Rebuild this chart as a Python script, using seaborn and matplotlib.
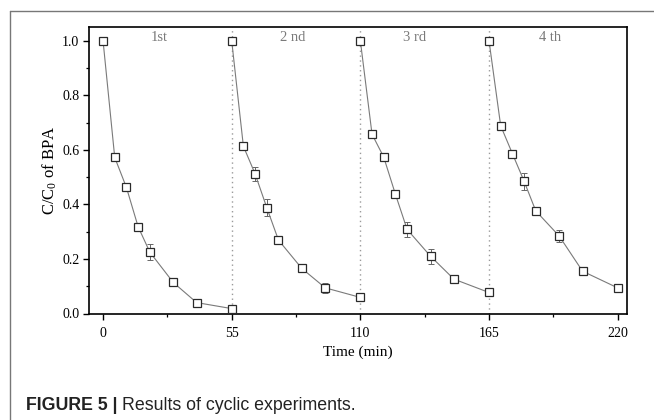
import matplotlib
matplotlib.use("Agg")
import matplotlib.pyplot as plt
import seaborn as sns
import numpy as np
import pandas as pd
from matplotlib.ticker import MultipleLocator, FixedLocator
from matplotlib.lines import Line2D

# ---- data ----
cycle_names = ["1st", "2 nd", "3 rd", "4 th"]
time_c1 = [0, 5, 10, 15, 20, 30, 40, 55]
conc_c1 = [1.0, 0.572, 0.462, 0.318, 0.225, 0.114, 0.040, 0.018]
err_c1 = [0.004, 0.006, 0.006, 0.006, 0.028, 0.012, 0.005, 0.004]
time_c2 = [55, 60, 65, 70, 75, 85, 95, 110]
conc_c2 = [1.0, 0.613, 0.512, 0.388, 0.269, 0.165, 0.094, 0.059]
err_c2 = [0.004, 0.005, 0.026, 0.032, 0.005, 0.005, 0.018, 0.004]
time_c3 = [110, 115, 120, 125, 130, 140, 150, 165]
conc_c3 = [1.0, 0.657, 0.573, 0.437, 0.308, 0.210, 0.126, 0.077]
err_c3 = [0.004, 0.012, 0.006, 0.006, 0.027, 0.028, 0.005, 0.006]
time_c4 = [165, 170, 175, 180, 185, 195, 205, 220]
conc_c4 = [1.0, 0.688, 0.586, 0.485, 0.376, 0.284, 0.155, 0.094]
err_c4 = [0.004, 0.008, 0.005, 0.031, 0.005, 0.023, 0.008, 0.005]
cycle_boundaries = [55, 110, 165]
label_x = [24, 81, 133, 191]
x_ticks = [0, 55, 110, 165, 220]

times = [time_c1, time_c2, time_c3, time_c4]
concs = [conc_c1, conc_c2, conc_c3, conc_c4]
errs = [err_c1, err_c2, err_c3, err_c4]

rows = []
for name, t, c, e in zip(cycle_names, times, concs, errs):
    for ti, ci, ei in zip(t, c, e):
        rows.append({"cycle": name, "time": ti, "conc": ci, "err": ei})
df = pd.DataFrame(rows)

sns.set_theme(style="ticks")
plt.rcParams["font.family"] = ["Liberation Serif", "DejaVu Serif"]
plt.rcParams["mathtext.fontset"] = "custom"
plt.rcParams["mathtext.rm"] = "Liberation Serif"
plt.rcParams["mathtext.it"] = "Liberation Serif:italic"

fig = plt.figure(figsize=(6.54, 4.2), dpi=100)
ax = fig.add_axes([89 / 654, 1 - 313.5 / 420, (627 - 89) / 654, (313.5 - 27) / 420])

line_col = "#7a7a7a"
mk_edge = "#2a2a2a"

for b in cycle_boundaries:
    ax.axvline(b, color="#9a9a9a", linestyle=(0, (1, 2.5)), linewidth=1.0, zorder=1)

for name in cycle_names:
    sub = df[df["cycle"] == name]
    ax.errorbar(sub["time"], sub["conc"], yerr=sub["err"], fmt="none",
                ecolor="#666666", elinewidth=0.7, capsize=2.5, capthick=0.7, zorder=2)
    sns.lineplot(data=sub, x="time", y="conc", ax=ax, color=line_col,
                 linewidth=0.8, marker="s", markersize=5.2, markerfacecolor="white",
                 markeredgecolor=mk_edge, markeredgewidth=0.9, zorder=3,
                 errorbar=None, sort=False)

for name, lx in zip(cycle_names, label_x):
    ax.text(lx, 1.01, name, ha="center", va="center", fontsize=10.5, color="#7a7a7a")

ax.set_xlim(-6, 224)
ax.set_ylim(0, 1.05)
ax.xaxis.set_major_locator(FixedLocator(x_ticks))
ax.xaxis.set_minor_locator(FixedLocator([27.5, 82.5, 137.5, 192.5]))
ax.yaxis.set_major_locator(MultipleLocator(0.2))
ax.yaxis.set_minor_locator(MultipleLocator(0.1))
ax.tick_params(axis="both", which="major", direction="out", length=4, width=1.0,
               labelsize=10, color="black", labelcolor="black", pad=3)
ax.tick_params(axis="x", which="major", pad=5.5)
ax.tick_params(axis="both", which="minor", direction="out", length=2.5, width=0.9,
               color="black")
ax.tick_params(top=False, right=False, which="both")
for s in ax.spines.values():
    s.set_color("black")
    s.set_linewidth(1.2)
ax.set_xlabel("Time (min)", fontsize=11, color="black", labelpad=4.5)
ax.set_ylabel("C/C$_0$ of BPA", fontsize=12, color="black", labelpad=2.5)

# outer panel frame (left and top edges)
fig.add_artist(Line2D([9.5 / 654, 9.5 / 654], [0, 1 - 10.5 / 420], transform=fig.transFigure,
                      color="#777777", linewidth=1.0))
fig.add_artist(Line2D([9.5 / 654, 1], [1 - 10.5 / 420, 1 - 10.5 / 420], transform=fig.transFigure,
                      color="#777777", linewidth=1.0))

# caption
cap_font = ["Liberation Sans", "DejaVu Sans"]
t1 = fig.text(26 / 654, 1 - 405 / 420, "FIGURE 5 |", fontsize=12.8, fontweight="bold",
              family=cap_font, color="#222222", va="center", ha="left")
fig.canvas.draw()
bb = t1.get_window_extent(renderer=fig.canvas.get_renderer())
fig.text((bb.x1 + 4) / 654, 1 - 405 / 420, "Results of cyclic experiments.", fontsize=12.8,
         family=cap_font, color="#222222", va="center", ha="left")

fig.savefig("out.png", dpi=100)
